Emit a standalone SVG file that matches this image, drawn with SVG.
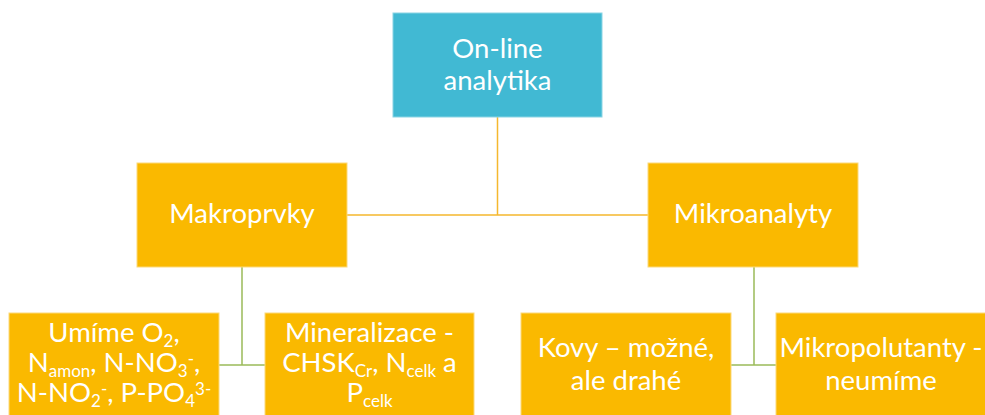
<svg xmlns="http://www.w3.org/2000/svg" width="985" height="415" viewBox="0 0 985 415">
<style>
.box{fill:#FAB900;stroke:#FCD97A;stroke-width:1}
.top{fill:#41B9D3;stroke:#8AD4E4;stroke-width:1}
text{font-family:Lato,"Open Sans",sans-serif;font-size:27.5px;fill:#FFFFFF;text-anchor:middle}
.s{font-size:17px}
.c1{stroke:#F5B82E;stroke-width:1.5;fill:none}
.c2{stroke:#9BBB59;stroke-width:1.5;fill:none}
</style>
<rect width="985" height="415" fill="#FFFFFF"/>
<g id="connectors">
<path class="c1" d="M497.5 117 V215 M347 215 H648"/>
<path class="c2" d="M242 267 V365 M219 365 H265"/>
<path class="c2" d="M754 267 V365 M731 365 H776"/>
</g>
<g id="online">
<rect class="top" x="393" y="13" width="209" height="104"/>
<text x="497.5" y="58">On-line</text>
<text x="497.5" y="90">analytika</text>
</g>
<g id="makroprvky">
<rect class="box" x="137" y="163" width="210" height="104"/>
<text x="242" y="223">Makroprvky</text>
</g>
<g id="mikroanalyty">
<rect class="box" x="648" y="163" width="210" height="104"/>
<text x="753" y="223">Mikroanalyty</text>
</g>
<g id="umime">
<rect class="box" x="9" y="313" width="210" height="104"/>
<text x="114" y="342">Umíme O<tspan class="s" dy="5">2</tspan><tspan dy="-5">,</tspan></text>
<text x="114" y="372">N<tspan class="s" dy="5">amon</tspan><tspan dy="-5">, N-NO</tspan><tspan class="s" dy="5">3</tspan><tspan class="s" dy="-12">-</tspan><tspan dy="7">,</tspan></text>
<text x="114" y="402">N-NO<tspan class="s" dy="5">2</tspan><tspan class="s" dy="-12">-</tspan><tspan dy="7">, P-PO</tspan><tspan class="s" dy="5">4</tspan><tspan class="s" dy="-12">3-</tspan></text>
</g>
<g id="mineralizace">
<rect class="box" x="265" y="313" width="209" height="104"/>
<text x="369.5" y="342">Mineralizace -</text>
<text x="369.5" y="372">CHSK<tspan class="s" dy="5">Cr</tspan><tspan dy="-5">, N</tspan><tspan class="s" dy="5">celk</tspan><tspan dy="-5"> a</tspan></text>
<text x="369.5" y="402">P<tspan class="s" dy="5">celk</tspan></text>
</g>
<g id="kovy">
<rect class="box" x="521" y="313" width="210" height="104"/>
<text x="626" y="357">Kovy – možné,</text>
<text x="626" y="390">ale drahé</text>
</g>
<g id="mikropolutanty">
<rect class="box" x="776" y="313" width="210" height="104"/>
<text x="881" y="357">Mikropolutanty -</text>
<text x="881" y="390">neumíme</text>
</g>
</svg>
